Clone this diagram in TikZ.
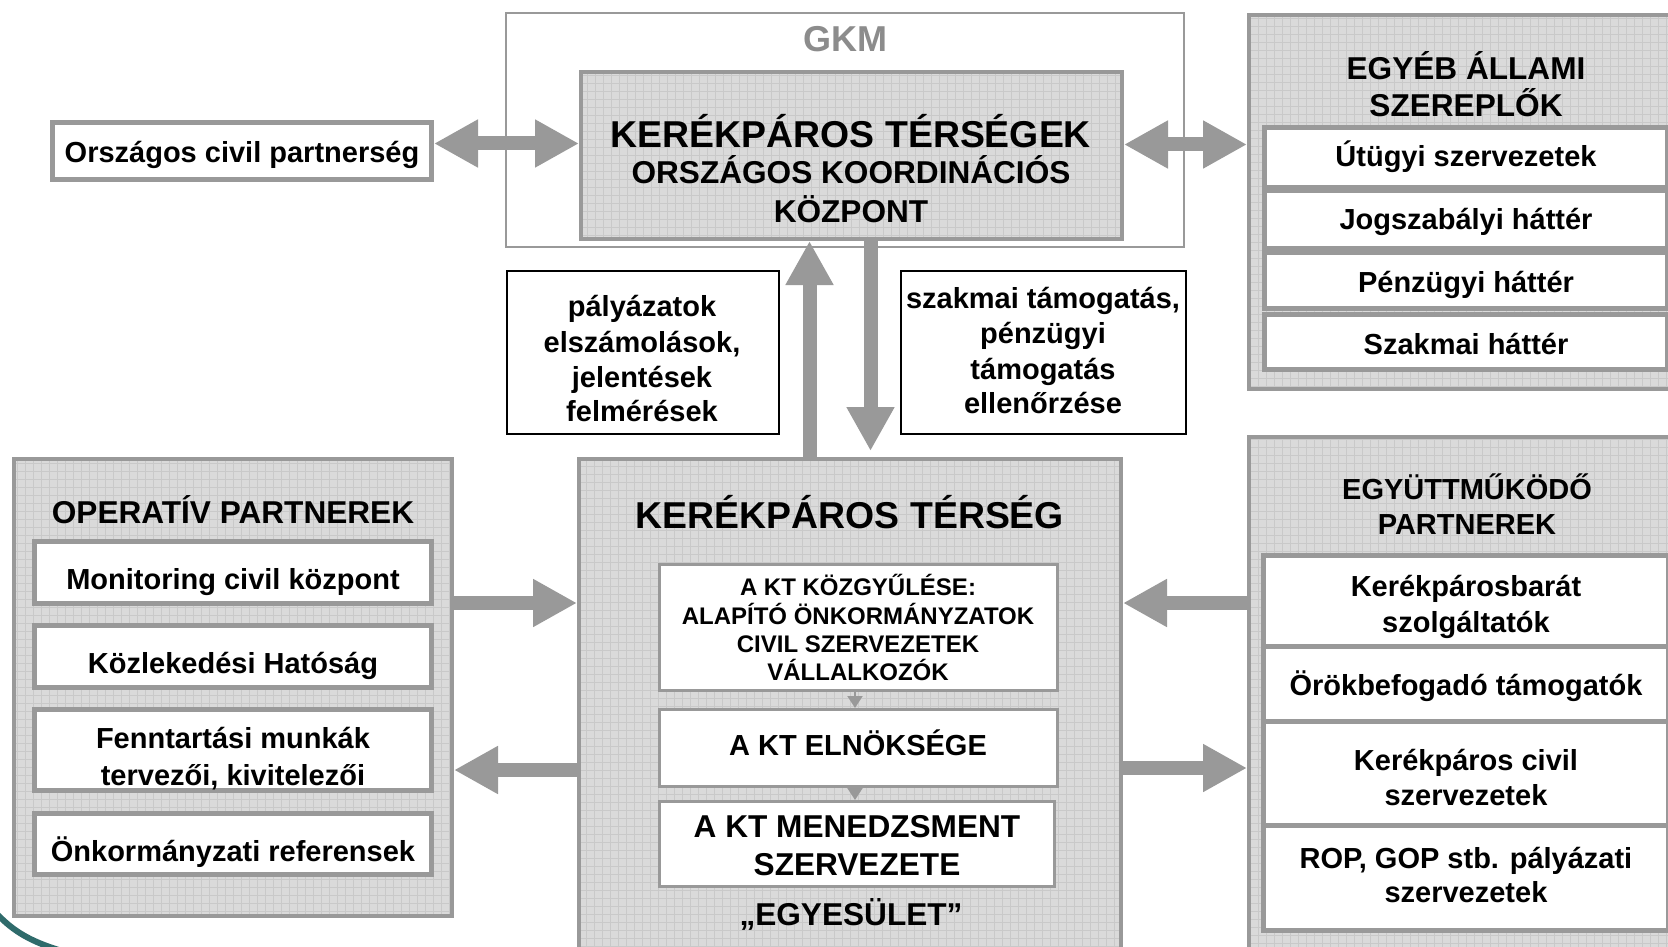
\documentclass[tikz,border=0pt]{standalone}
\usepackage{fontspec}
\setmainfont{Liberation Sans}
\usetikzlibrary{arrows.meta}
\definecolor{bord}{HTML}{999999}
\definecolor{hatchfill}{HTML}{DADADA}
\definecolor{hatchline}{HTML}{C9C9C9}
\definecolor{gkmgray}{HTML}{8C8C8C}
\definecolor{arcteal}{HTML}{2F6B6B}
\tikzset{
  box/.style={rectangle, draw=bord, fill=white, line width=5pt, inner sep=0pt},
  thinbox/.style={rectangle, draw=bord, fill=white, line width=3pt, inner sep=0pt},
  blackbox/.style={rectangle, draw=black, fill=white, line width=2pt, inner sep=0pt},
  hatched/.style={rectangle, draw=bord, fill=hatchfill, line width=4pt, inner sep=0pt,
    path picture={\draw[hatchline, line width=0.6pt, step=8pt]
      (path picture bounding box.south west) grid (path picture bounding box.north east);}},
  t/.style={anchor=base, inner sep=0pt, font=\fontsize{29}{34}\selectfont\bfseries},
  t24/.style={t, font=\fontsize{24}{28}\selectfont\bfseries},
  t31/.style={t, font=\fontsize{31.6}{36}\selectfont\bfseries},
  t37/.style={t, font=\fontsize{37.4}{42}\selectfont\bfseries},
  t36/.style={t, font=\fontsize{36}{40}\selectfont\bfseries, text=gkmgray},
  bigarrow/.style={draw=bord, line width=14pt},
  bigtip/.tip={Triangle[width=45pt, length=44pt]},
  smallarrow/.style={draw=bord, line width=2pt, -{Triangle[width=15pt, length=12pt]}},
}
\begin{document}
\begin{tikzpicture}[x=1pt, y=-1pt]
\useasboundingbox (0,0) rectangle (1668,947);
\clip (0,0) rectangle (1668,947);
\fill[white] (0,0) rectangle (1668,947);

% ---------- top row ----------
\node[rectangle, draw=bord, fill=white, line width=2.5pt, inner sep=0pt,
      minimum width=678pt, minimum height=234pt] (gkm) at (845,130) {};
\node[t36] (gkmlabel) at (845,52) {GKM};
\node[hatched, minimum width=541pt, minimum height=167pt] (ktokk) at (851.5,155.5) {};
\node[t37] (ktokk1) at (851,147) {KERÉKPÁROS TÉRSÉGEK};
\node[t31] (ktokk2) at (851,183) {ORSZÁGOS KOORDINÁCIÓS};
\node[t31] (ktokk3) at (851,222) {KÖZPONT};

\node[box, minimum width=379pt, minimum height=57pt] (orsz) at (242,151) {};
\node[t] (orszlabel) at (242,163) {Országos civil partnerség};

\node[hatched, minimum width=451pt, minimum height=374pt] (egyeb) at (1474.5,202) {};
\node[t31] (egyeb1) at (1466,80) {EGYÉB ÁLLAMI};
\node[t31] (egyeb2) at (1466,117) {SZEREPLŐK};
\node[box, minimum width=403.5pt, minimum height=60pt] (eg1) at (1466,157.5) {};
\node[box, minimum width=403.5pt, minimum height=58pt] (eg2) at (1466,219.5) {};
\node[box, minimum width=403.5pt, minimum height=56pt] (eg3) at (1466,280.5) {};
\node[box, minimum width=403.5pt, minimum height=55pt] (eg4) at (1466,342) {};
\node[t] (eg1t) at (1466,166) {Útügyi szervezetek};
\node[t] (eg2t) at (1466,229) {Jogszabályi háttér};
\node[t] (eg3t) at (1466,292) {Pénzügyi háttér};
\node[t] (eg4t) at (1466,354) {Szakmai háttér};

% ---------- middle labels ----------
\node[blackbox, minimum width=272pt, minimum height=163pt] (pal) at (643,352.5) {};
\node[t] (pal1) at (642,316) {pályázatok};
\node[t] (pal2) at (642,352) {elszámolások,};
\node[t] (pal3) at (642,387) {jelentések};
\node[t] (pal4) at (642,421) {felmérések};

\node[blackbox, minimum width=285pt, minimum height=163pt] (szak) at (1043.5,352.5) {};
\node[t] (szak1) at (1043,308) {szakmai támogatás,};
\node[t] (szak2) at (1043,343) {pénzügyi};
\node[t] (szak3) at (1043,379) {támogatás};
\node[t] (szak4) at (1043,413) {ellenőrzése};

% ---------- bottom left ----------
\node[hatched, minimum width=438pt, minimum height=457pt] (op) at (233,687.5) {};
\node[t31] (optitle) at (233,523) {OPERATÍV PARTNEREK};
\node[box, minimum width=397pt, minimum height=62pt] (op1) at (233,572.5) {};
\node[box, minimum width=397pt, minimum height=62pt] (op2) at (233,656.5) {};
\node[box, minimum width=397pt, minimum height=81pt] (op3) at (233,750) {};
\node[box, minimum width=397pt, minimum height=61pt] (op4) at (233,844) {};
\node[t] (op1t) at (233,589) {Monitoring civil központ};
\node[t] (op2t) at (233,673) {Közlekedési Hatóság};
\node[t] (op3t) at (233,748) {Fenntartási munkák};
\node[t] (op3u) at (233,785) {tervezői, kivitelezői};
\node[t] (op4t) at (233,861) {Önkormányzati referensek};

% ---------- bottom centre ----------
\node[hatched, minimum width=542pt, minimum height=511pt] (kt) at (850,714.5) {};
\node[t37] (kttitle) at (850,528) {KERÉKPÁROS TÉRSÉG};
\node[thinbox, minimum width=398pt, minimum height=126pt] (kozgy) at (858.5,627.5) {};
\node[t24] (kozgy1) at (858,595) {A KT KÖZGYŰLÉSE:};
\node[t24] (kozgy2) at (858,624) {ALAPÍTÓ ÖNKORMÁNYZATOK};
\node[t24] (kozgy3) at (858,652) {CIVIL SZERVEZETEK};
\node[t24] (kozgy4) at (858,680) {VÁLLALKOZÓK};
\node[thinbox, minimum width=398pt, minimum height=77pt] (elnok) at (858.5,748) {};
\node[t] (elnokt) at (858,755) {A KT ELNÖKSÉGE};
\node[thinbox, minimum width=395pt, minimum height=85pt] (men) at (857,844) {};
\node[t31] (men1) at (857,837) {A KT MENEDZSMENT};
\node[t31] (men2) at (857,875) {SZERVEZETE};
\node[t31] (egyes) at (851,925) {„EGYESÜLET”};
\draw[smallarrow] (kozgy.south -| 855,0) -- (elnok.north -| 855,0);
\draw[smallarrow] (elnok.south -| 855,0) -- (men.north -| 855,0);

% ---------- bottom right ----------
\node[hatched, minimum width=451pt, minimum height=533pt] (egy) at (1474.5,703.5) {};
\node[t] (egytitle1) at (1467,499) {EGYÜTTMŰKÖDŐ};
\node[t] (egytitle2) at (1467,534) {PARTNEREK};
\node[box, minimum width=405pt, minimum height=90.5pt] (ey1) at (1466,600.75) {};
\node[box, minimum width=405pt, minimum height=75pt] (ey2) at (1466,683.5) {};
\node[box, minimum width=405pt, minimum height=104.5pt] (ey3) at (1466,773.25) {};
\node[box, minimum width=405pt, minimum height=105pt] (ey4) at (1466,878) {};
\node[t] (ey1t) at (1466,596) {Kerékpárosbarát};
\node[t] (ey1u) at (1466,632) {szolgáltatók};
\node[t] (ey2t) at (1466,695) {Örökbefogadó támogatók};
\node[t] (ey3t) at (1466,770) {Kerékpáros civil};
\node[t] (ey3u) at (1466,805) {szervezetek};
\node[t] (ey4t) at (1466,868) {ROP, GOP stb. pályázati};
\node[t] (ey4u) at (1466,902) {szervezetek};

% ---------- block arrows ----------
\draw[bigarrow, {bigtip}-{bigtip}] (orsz.east |- 0,143.5) -- (ktokk.west |- 0,143.5);
\draw[bigarrow, {bigtip}-{bigtip}] (ktokk.east |- 0,144.5) -- (egyeb.west |- 0,144.5);
\draw[bigarrow, -{bigtip}] (kt.north -| 809.5,0) -- (ktokk.south -| 809.5,0);
\draw[bigarrow, -{bigtip}, shorten >=6pt] (ktokk.south -| 870.5,0) -- (kt.north -| 870.5,0);
\draw[bigarrow, -{bigtip}] (op.east |- 0,603) -- (kt.west |- 0,603);
\draw[bigarrow, -{bigtip}] (kt.west |- 0,770) -- (op.east |- 0,770);
\draw[bigarrow, -{bigtip}] (egy.west |- 0,603) -- (kt.east |- 0,603);
\draw[bigarrow, -{bigtip}] (kt.east |- 0,768) -- (egy.west |- 0,768);

% ---------- decorative arc ----------
\draw[arcteal, line width=6pt] (-3,914) .. controls (14,932) and (32,942) .. (62,951);
\end{tikzpicture}
\end{document}
